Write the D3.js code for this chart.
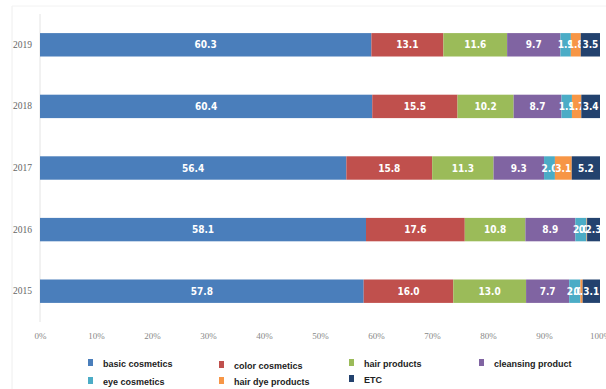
<!DOCTYPE html>
<html><head><meta charset="utf-8">
<script src="https://cdn.jsdelivr.net/npm/d3@7"></script>
<style>body{margin:0;background:#fff}svg{display:block}</style>
</head><body>
<script>
const years = ["2019","2018","2017","2016","2015"];
const seriesNames = ["basic cosmetics","color cosmetics","hair products","cleansing product","eye cosmetics","hair dye products","ETC"];
const basic     = [60.3, 60.4, 56.4, 58.1, 57.8];
const color     = [13.1, 15.5, 15.8, 17.6, 16.0];
const hair      = [11.6, 10.2, 11.3, 10.8, 13.0];
const cleansing = [9.7, 8.7, 9.3, 8.9, 7.7];
const eye       = [1.9, 1.9, 2.0, 2.0, 2.0];
const hairDye   = [1.8, 1.7, 3.1, 0.1, 0.4];
const etc       = [3.5, 3.4, 5.2, 2.3, 3.1];
const tickLabels = ["0%","10%","20%","30%","40%","50%","60%","70%","80%","90%","100%"];
const colors = ["#4a7ebb","#c0504d","#9bbb59","#8064a2","#4bacc6","#f79646","#23426e"];

const W = 606, H = 389;
const svg = d3.select("body").append("svg").attr("width", W).attr("height", H);

const allSeries = [basic, color, hair, cleansing, eye, hairDye, etc];
const rows = years.map((y, i) => {
  const o = {year: y};
  seriesNames.forEach((s, k) => o[s] = allSeries[k][i]);
  return o;
});
const stack = d3.stack().keys(seriesNames).offset(d3.stackOffsetExpand);
const stacked = stack(rows);

const x = d3.scaleLinear().domain([0, 1]).range([40, 600]);
const y = d3.scaleBand().domain(years).range([14, 322]).paddingInner(0.62).paddingOuter(0.31);

// frame lines
svg.append("line").attr("x1", 12).attr("x2", 12).attr("y1", 6).attr("y2", 389).attr("stroke", "#eeeeee");
svg.append("line").attr("x1", 12).attr("x2", 606).attr("y1", 6).attr("y2", 6).attr("stroke", "#f2f2f2");
// y axis line
svg.append("line").attr("x1", 40).attr("x2", 40).attr("y1", 14).attr("y2", 322).attr("stroke", "#e4e4e4");

const g = svg.append("g");
stacked.forEach((layer, k) => {
  g.selectAll(null).data(layer).enter().append("rect")
    .attr("x", d => x(d[0]))
    .attr("y", d => y(d.data.year))
    .attr("width", d => x(d[1]) - x(d[0]))
    .attr("height", y.bandwidth())
    .attr("fill", colors[k]);
  g.selectAll(null).data(layer).enter().append("text")
    .attr("x", d => (x(d[0]) + x(d[1])) / 2)
    .attr("y", d => y(d.data.year) + y.bandwidth() / 2)
    .attr("dy", "0.36em")
    .attr("text-anchor", "middle")
    .attr("fill", "#ffffff")
    .attr("font-family", "'Liberation Sans Narrow','Arial Narrow','DejaVu Sans Condensed',sans-serif")
    .attr("font-size", 10)
    .attr("font-weight", "bold")
    .text(d => d.data[seriesNames[k]].toFixed(1));
});

// y axis labels
const yAxis = d3.axisLeft(y).tickSize(0).tickPadding(6);
const ya = svg.append("g").attr("transform", "translate(40,0)").call(yAxis);
ya.select(".domain").remove();
ya.selectAll("text").attr("fill", "#666").attr("font-family", "'Liberation Serif',serif").attr("font-size", 9.5).attr("x", -8);

// x axis
const xAxis = d3.axisBottom(x).tickValues(d3.range(0, 1.0001, 0.1)).tickSize(0).tickPadding(0)
  .tickFormat((d, i) => tickLabels[i]);
const xa = svg.append("g").attr("transform", "translate(0,333)").call(xAxis);
xa.select(".domain").remove();
xa.selectAll("text").attr("fill", "#888").attr("font-family", "'Liberation Serif',serif").attr("font-size", 9);

// legend
const legendPos = [[91,364],[222,366],[352,364],[482,364],[91,382],[222,382],[352,380]];
const leg = svg.append("g");
seriesNames.forEach((s, k) => {
  const [lx, ly] = legendPos[k];
  leg.append("rect").attr("x", lx - 3).attr("y", ly - 5).attr("width", 5).attr("height", 7).attr("fill", colors[k]);
  leg.append("text").attr("x", lx + 12).attr("y", ly).attr("dy", "0.35em")
    .attr("font-family", "'Liberation Sans',Arial,sans-serif").attr("font-size", 9).attr("font-weight", "bold")
    .attr("fill", "#222").text(s);
});
</script>
</body></html>
